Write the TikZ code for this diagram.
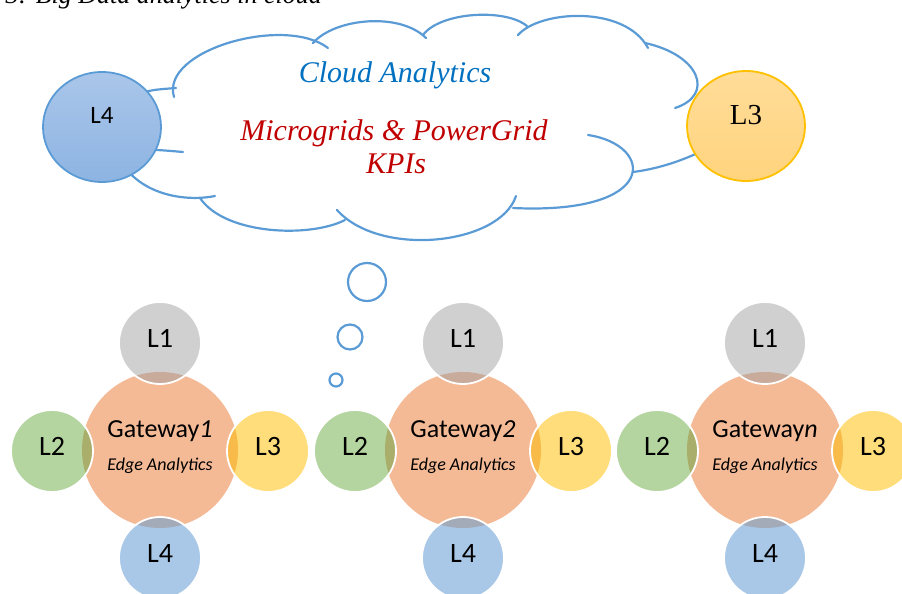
\documentclass[tikz,border=0pt]{standalone}
\usepackage{fontspec}
\setmainfont{Liberation Serif}
\newfontfamily\carlito{Carlito}
\usepackage{tikz}
\definecolor{cloudblue}{HTML}{5B9BD5}
\definecolor{cloudtext}{HTML}{0070C0}
\definecolor{kpired}{HTML}{C00000}
\definecolor{bluetop}{HTML}{AAC6EA}
\definecolor{bluebot}{HTML}{8DB4E2}
\definecolor{ambertop}{HTML}{FFDC98}
\definecolor{amberbot}{HTML}{FFD47E}
\definecolor{amberline}{HTML}{FFC000}
\definecolor{peach}{HTML}{F4BA96}
\definecolor{lone}{HTML}{D0D0D0}
\definecolor{lonelens}{HTML}{C8AB9A}
\definecolor{ltwo}{HTML}{B4D5A0}
\definecolor{ltwolens}{HTML}{AAAE6B}
\definecolor{lthree}{HTML}{FFDD7A}
\definecolor{lthreelens}{HTML}{F8BB4A}
\definecolor{lfour}{HTML}{A9C8E8}
\definecolor{lfourlens}{HTML}{A3AAB8}
\tikzstyle{cloudline}=[cloudblue, line width=2.2pt, line cap=round]
\tikzstyle{ring}=[white, line width=1.8pt]
\tikzstyle{ltext}=[anchor=base, inner sep=0pt, font=\carlito\fontsize{28}{30}\selectfont]

\begin{document}
\begin{tikzpicture}[x=1pt, y=-1pt]
        \useasboundingbox (0,0) rectangle (902,594);
        \clip (0,0) rectangle (902,594);
        \node[anchor=base east, inner sep=0pt, font=\itshape\fontsize{26}{28}\selectfont] (caption) at (322,3.5) {3: Big Data analytics in cloud};
        % cloud outline
        \draw[cloudline] (130,97) .. controls (150,90) .. (176,88);
        \draw[cloudline] (174,97) .. controls (160,50) and (285,15) .. (328,48);
        \draw[cloudline] (313,43) .. controls (335,18) and (400,12) .. (426,38);
        \draw[cloudline] (423,35) .. controls (440,12) and (505,8) .. (527,26);
        \draw[cloudline] (518,35) .. controls (540,10) and (625,5) .. (648,48);
        \draw[cloudline] (645,43) .. controls (700,55) and (715,95) .. (675,108);
        \draw[cloudline] (633,172) .. controls (665,168) and (700,155) .. (730,135);
        \draw[cloudline] (588,135) .. controls (655,145) and (660,215) .. (513,208);
        \draw[cloudline] (516,196) .. controls (500,245) and (380,258) .. (337,210);
        \draw[cloudline] (345,220) .. controls (310,238) and (225,235) .. (200,198);
        \draw[cloudline] (120,160) .. controls (140,195) and (185,202) .. (215,196);
        \draw[cloudline] (130,149) .. controls (160,150) .. (183,152);
        \node[anchor=base, inner sep=0pt, text=cloudtext, font=\itshape\fontsize{30}{32}\selectfont] (cloudtitle) at (395,82) {Cloud Analytics};
        \node[anchor=base, inner sep=0pt, text=kpired, font=\itshape\fontsize{30}{32}\selectfont] (grids) at (394,140) {Microgrids \& PowerGrid};
        \node[anchor=base, inner sep=0pt, text=kpired, font=\itshape\fontsize{30}{32}\selectfont] (kpis) at (396,173) {KPIs};
        % cloud side layers
        \shade[top color=bluetop, bottom color=bluebot] (102,127) ellipse [x radius=59pt, y radius=55pt];
        \draw[cloudblue, line width=1.8pt] (102,127) ellipse [x radius=59pt, y radius=55pt];
        \node[anchor=base, inner sep=0pt, font=\carlito\fontsize{25}{27}\selectfont] (cloudl4) at (102,123) {L4};
        \shade[top color=ambertop, bottom color=amberbot] (746,126) ellipse [x radius=59pt, y radius=55pt];
        \draw[amberline, line width=1.8pt] (746,126) ellipse [x radius=59pt, y radius=55pt];
        \node[anchor=base, inner sep=0pt, font=\fontsize{29}{31}\selectfont] (cloudl3) at (746,124) {L3};
        % thought bubbles
        \draw[cloudline] (367,282) circle [radius=19pt];
        \draw[cloudline] (350,337) circle [radius=12.5pt];
        \draw[cloudline] (336,380) circle [radius=6.5pt];
        % gateways
        \foreach \cx/\gn in {160/1, 463/2, 765/n}{
                \fill[peach] (\cx,450) circle [radius=78pt];
                \foreach \dx/\dy/\col/\lens in {0/-107/lone/lonelens, -108/1/ltwo/ltwolens, 108/1/lthree/lthreelens, 0/108/lfour/lfourlens}{
                        \fill[\col] (\cx+\dx,450+\dy) circle [radius=41pt];
                        \begin{scope}
                                \clip (\cx,450) circle [radius=78pt];
                                \fill[\lens] (\cx+\dx,450+\dy) circle [radius=41pt];
                        \end{scope}
                        \draw[ring] (\cx+\dx,450+\dy) circle [radius=41pt];
                }
                \node[ltext] (lone\gn) at (\cx,347) {L1};
                \node[ltext] (ltwo\gn) at (\cx-108,455) {L2};
                \node[ltext] (lthree\gn) at (\cx+108,455) {L3};
                \node[ltext] (lfour\gn) at (\cx,562) {L4};
                \node[anchor=base, inner sep=0pt, font=\carlito\fontsize{26}{28}\selectfont] (gw\gn) at (\cx,437) {Gateway\textit{\gn}};
                \node[anchor=base, inner sep=0pt, font=\carlito\itshape\fontsize{18}{20}\selectfont] (edge\gn) at (\cx,470) {Edge Analytics};
        }
\end{tikzpicture}
\end{document}
